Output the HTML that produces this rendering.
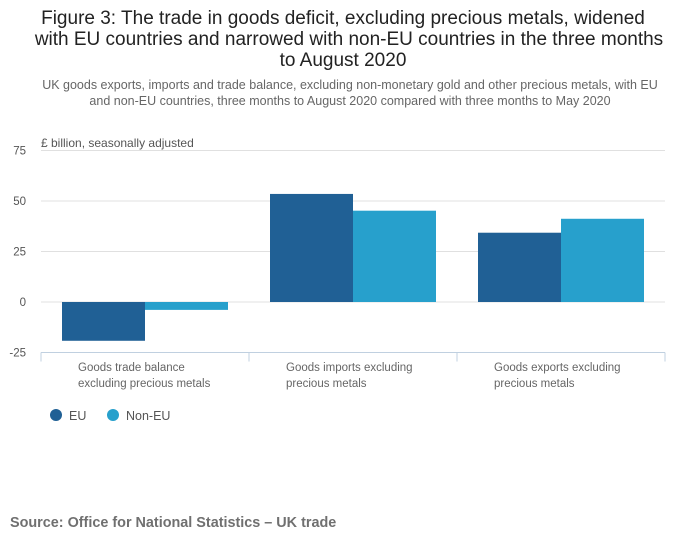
<!DOCTYPE html>
<html><head><meta charset="utf-8"><style>
body{margin:0;background:#fff;font-family:"Liberation Sans",sans-serif;}
svg text{font-family:"Liberation Sans",sans-serif;}
</style></head><body>
<svg width="700" height="549">
<text x="343" y="24" text-anchor="middle" font-size="19" fill="#222">Figure 3: The trade in goods deficit, excluding precious metals, widened</text>
<text x="349" y="45" text-anchor="middle" font-size="19" fill="#222">with EU countries and narrowed with non-EU countries in the three months</text>
<text x="343" y="66" text-anchor="middle" font-size="19" fill="#222">to August 2020</text>
<text x="350" y="89" text-anchor="middle" font-size="12.5" fill="#666">UK goods exports, imports and trade balance, excluding non-monetary gold and other precious metals, with EU</text>
<text x="350" y="105" text-anchor="middle" font-size="12.5" fill="#666">and non-EU countries, three months to August 2020 compared with three months to May 2020</text>
<text x="41" y="147" font-size="12" fill="#555">£ billion, seasonally adjusted</text>
<g id="grid"></g><g id="bars"></g><g id="xaxis"></g>
<g>
<circle cx="56" cy="415" r="6" fill="#206095"/>
<text x="69" y="420" font-size="12.5" fill="#555">EU</text>
<circle cx="113" cy="415" r="6" fill="#27a0cc"/>
<text x="126" y="420" font-size="12.5" fill="#555">Non-EU</text>
</g>
<text x="10" y="527" font-size="14.4" font-weight="bold" fill="#707070">Source: Office for National Statistics – UK trade</text>
</svg>
<script>
const categories=[["Goods trade balance","excluding precious metals"],["Goods imports excluding","precious metals"],["Goods exports excluding","precious metals"]];
const euValues=[-19.2,53.5,34.3];
const nonEuValues=[-3.9,45.2,41.2];
const yTicks=[75,50,25,0,-25];
const NS="http://www.w3.org/2000/svg";
const x0=41,x1=665,y0=302,pxPer=50.5/25;
const y=v=>y0-v*pxPer;
const bw=(x1-x0)/3;
function mk(t,a,p){const e=document.createElementNS(NS,t);for(const k in a)e.setAttribute(k,a[k]);p.appendChild(e);return e;}
const grid=document.getElementById('grid'),bars=document.getElementById('bars'),xa=document.getElementById('xaxis');
yTicks.forEach(t=>{
 if(t>-25){const l=mk('line',{x1:x0,x2:x1,y1:y(t),y2:y(t),stroke:'#e0e0e0'},grid);
 
 }
 const tx=mk('text',{x:26,y:y(t)+4,'text-anchor':'end','font-size':11.5,fill:'#555'},grid);tx.textContent=t;
 
 
});
const ax=mk('line',{x1:x0,x2:x1,y1:y(-25),y2:y(-25),stroke:'#c0d0e0'},xa);


for(let i=0;i<=3;i++){const tk=mk('line',{x1:x0+i*bw,x2:x0+i*bw,y1:y(-25),y2:y(-25)+9,stroke:'#c0d0e0'},xa);
 
 }
const barW=83;
categories.forEach((c,i)=>{
 const cx=x0+i*bw+bw/2;
 [[euValues[i],'#206095',cx-barW,'bar-eu'],[nonEuValues[i],'#27a0cc',cx,'bar-noneu']].forEach(([v,col,bx,nm])=>{
  const r=mk('rect',{x:bx,y:Math.min(y(v),y0),width:barW,height:Math.abs(y(v)-y0),fill:col},bars);
  
  
 });
 c.forEach((ln,j)=>{const t=mk('text',{x:x0+i*bw+37,y:371+j*16,'font-size':11.5,fill:'#666'},xa);t.textContent=ln;
  
  });
});
</script>
</body></html>
